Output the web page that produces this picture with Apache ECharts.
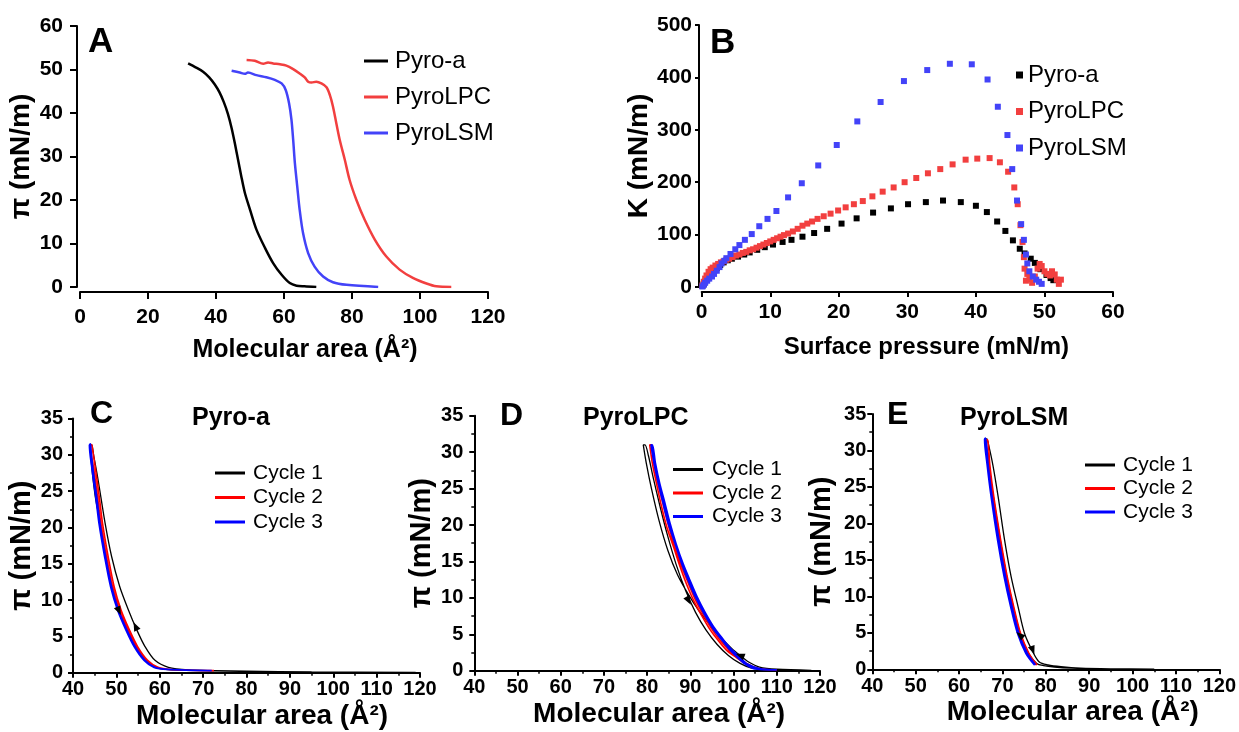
<!DOCTYPE html>
<html><head><meta charset="utf-8">
<script src="https://cdn.jsdelivr.net/npm/echarts@6/dist/echarts.min.js"></script>
<style>html,body{margin:0;padding:0;background:#fff}#c{width:1239px;height:732px}</style>
</head><body><div id="c"></div>
<script>
// ---------- Panel A: isotherms ----------
const aPyroAX = [31.8, 34.0, 36.2, 38.0, 39.6, 41.0, 42.3, 43.5, 44.6, 45.6, 46.5, 47.4, 48.5, 50.0, 51.9, 54.4, 56.8, 59.3, 61.7, 63.7, 66.0, 69.5];
const aPyroAY = [51.4, 50.5, 49.5, 48.2, 46.6, 44.8, 42.5, 39.8, 36.5, 32.8, 29.2, 25.6, 21.6, 17.8, 13.2, 9.0, 5.5, 2.8, 0.9, 0.3, 0.15, 0.0];
const aLPCX = [49.0, 51.4, 53.9, 55.3, 56.8, 58.8, 60.7, 62.7, 64.6, 66.1, 67.1, 68.1, 69.5, 71.0, 72.5, 73.5, 74.4, 75.4, 76.4, 77.9, 79.3, 81.3, 83.7, 86.7, 90.1, 94.0, 97.9, 101.9, 104.8, 109.2];
const aLPCY = [52.2, 52.0, 51.3, 51.6, 51.4, 51.2, 50.9, 50.1, 49.1, 48.2, 47.2, 47.0, 47.2, 46.8, 45.9, 44.1, 41.5, 37.6, 33.8, 29.2, 24.6, 20.0, 15.5, 10.9, 7.0, 4.0, 2.1, 0.8, 0.15, 0.0];
const aLSMX = [44.6, 47.0, 48.5, 49.4, 51.9, 54.8, 57.3, 59.3, 60.5, 61.5, 62.2, 62.7, 63.2, 63.9, 64.6, 65.6, 67.1, 69.0, 71.5, 74.4, 78.4, 87.7];
const aLSMY = [49.7, 49.3, 49.0, 49.3, 48.7, 48.2, 47.6, 46.8, 45.3, 42.2, 38.4, 33.8, 28.5, 23.1, 17.8, 12.4, 7.8, 4.7, 2.4, 1.1, 0.5, 0.0];

// ---------- Panel B: compressibility modulus ----------
const bPyroAX = [0.1, 0.3, 0.5, 0.8, 1.1, 1.5, 1.9, 2.2, 2.7, 3.2, 3.8, 4.4, 5.3, 6.2, 7.0, 8.1, 9.2, 10.4, 11.8, 13.1, 14.7, 16.4, 18.3, 20.4, 22.6, 25.0, 27.6, 30.1, 32.7, 35.2, 37.8, 40.0, 41.6, 43.1, 44.3, 45.4, 46.4, 47.1, 48.0, 48.6, 49.4, 50.3, 50.9, 51.3];
const bPyroAY = [2, 6, 10, 16, 21, 27, 32, 36, 42, 47, 51, 54, 58, 62, 66, 71, 76, 81, 86, 90, 96, 103, 111, 121, 131, 142, 150, 158, 162, 165, 162, 155, 143, 125, 107, 89, 73, 64, 54, 46, 34, 23, 17, 13];
const bLPCX = [0.1, 0.3, 0.5, 0.7, 1.0, 1.3, 1.6, 2.0, 2.4, 2.8, 3.2, 3.6, 4.0, 4.5, 5.0, 5.5, 6.0, 6.5, 7.0, 7.5, 8.0, 8.5, 9.0, 9.5, 10.0, 10.5, 11.0, 11.5, 12.0, 12.6, 13.3, 14.0, 14.7, 15.4, 16.1, 16.9, 17.8, 18.8, 19.9, 21.0, 22.2, 23.5, 24.9, 26.4, 28.0, 29.6, 31.3, 33.0, 34.8, 36.6, 38.5, 40.2, 42.0, 43.5, 44.7, 45.6, 46.1, 46.5, 46.8, 47.0, 47.1, 47.3, 47.5, 47.8, 48.2, 48.6, 49.0, 49.3, 49.6, 50.0, 50.4, 50.8, 51.1, 51.5, 51.8, 52.1, 52.4];
const bLPCY = [3, 10, 16, 22, 29, 34, 37, 41, 44, 47, 49, 52, 54, 57, 60, 62, 65, 67, 70, 72, 75, 78, 81, 84, 87, 90, 93, 96, 99, 102, 106, 111, 117, 121, 125, 130, 135, 140, 146, 152, 158, 164, 173, 182, 190, 200, 208, 217, 225, 234, 243, 245, 246, 238, 220, 190, 158, 118, 86, 57, 35, 12, 25, 15, 8, 20, 35, 44, 40, 30, 25, 22, 30, 24, 14, 6, 14];
const bLSMX = [0.1, 0.3, 0.5, 0.8, 1.1, 1.5, 1.8, 2.2, 2.6, 2.9, 3.3, 3.6, 4.2, 4.9, 5.5, 6.3, 7.3, 8.4, 9.6, 10.9, 12.6, 14.6, 17.0, 19.7, 22.7, 26.1, 29.5, 32.9, 36.2, 39.4, 41.7, 43.2, 44.6, 45.3, 46.0, 46.6, 47.0, 47.3, 47.5, 47.8, 48.3, 48.8, 49.2, 49.6];
const bLSMY = [1, 4, 8, 12, 16, 20, 25, 31, 38, 45, 50, 55, 63, 72, 80, 90, 101, 116, 130, 145, 171, 198, 232, 271, 316, 353, 393, 414, 426, 425, 396, 344, 290, 225, 165, 120, 90, 62, 45, 30, 20, 14, 10, 6];

// ---------- Panel C: Pyro-a cycles (compression then expansion) ----------
const cC1X = [119, 95, 80, 72.8, 66.6, 62, 58.9, 56.6, 54.7, 52.8, 50.8, 48.9, 47.4, 45.8, 44.8, 44.3,
              44.0, 44.3, 45.2, 46.3, 47.6, 49.0, 50.6, 52.5, 54.4, 56.7, 59.0, 62.1, 66, 72, 85, 100, 119];
const cC1Y = [0.03, 0.1, 0.2, 0.28, 0.37, 0.74, 1.7, 3.6, 5.9, 8.6, 11.8, 16, 20.6, 26.5, 29.8, 31.4,
              31.4, 28.5, 24, 20.6, 16, 11.8, 8.6, 5.9, 3.6, 1.7, 0.74, 0.42, 0.32, 0.25, 0.15, 0.08, 0.03];
const cC2X = [72.5, 62.5, 59.6, 57.2, 54.9, 53.0, 51.1, 49.5, 48.1, 46.8, 46.1, 45.2, 44.5, 44.3,
              44.0, 44.8, 45.7, 46.4, 47.7, 49.1, 50.7, 52.6, 54.5, 56.8, 59.1, 62.2, 72.5];
const cC2Y = [0.28, 0.45, 0.74, 1.7, 3.6, 5.9, 8.6, 11.8, 16, 20.6, 24, 28, 30.8, 31.4,
              31.2, 28, 24, 20.6, 16, 11.8, 8.6, 5.9, 3.6, 1.7, 0.74, 0.45, 0.28];
const cC3X = [72, 62, 58.9, 56.6, 54.3, 52.4, 50.5, 48.9, 47.5, 46.2, 45.5, 44.6, 44.1, 44.0,
              43.8, 44.4, 45.3, 46.0, 47.3, 48.7, 50.3, 52.2, 54.1, 56.4, 58.7, 61.8, 72];
const cC3Y = [0.28, 0.45, 0.74, 1.7, 3.6, 5.9, 8.6, 11.8, 16, 20.6, 24, 28, 30.8, 31.5,
              31.3, 28, 24, 20.6, 16, 11.8, 8.6, 5.9, 3.6, 1.7, 0.74, 0.45, 0.28];
const cArrowX = [54.4, 50.6];
const cArrowY = [6.4, 8.5];

// ---------- Panel D: PyroLPC cycles ----------
const dC1X = [118, 110, 106, 103.5, 101.5, 99.5, 97, 94.5, 92, 89.5, 87, 84.8, 82.8, 81, 79.8, 79.1,
              79.5, 80.3, 81.4, 83, 84.7, 86.7, 88.9, 91.2, 93.6, 96.2, 98.8, 101.5, 104, 107, 112, 118];
const dC1Y = [0.05, 0.2, 0.5, 1.2, 2.1, 3.1, 4.6, 6.3, 8.2, 10.5, 13.2, 16.5, 20.5, 25, 28.5, 31,
              31, 29.5, 26.5, 22.5, 18.6, 14.6, 11, 8.0, 5.6, 3.6, 2.1, 1.0, 0.4, 0.15, 0.07, 0.05];
const dC2X = [110, 105.4, 102.6, 100.2, 98.4, 96.5, 94.6, 92.6, 90.7, 89.1, 87.6, 86.1, 84.5, 83.3, 82.2, 81.2, 80.6,
              80.9, 81.6, 82.6, 83.8, 85.0, 86.4, 88.0, 89.6, 91.2, 93.1, 95.1, 97.0, 99.0, 101.0, 103.0, 105.8, 110];
const dC2Y = [0.1, 0.3, 1.0, 2.0, 2.8, 4.1, 5.6, 7.6, 9.7, 11.9, 14.3, 17, 19.8, 22.6, 25.6, 28.5, 31,
              31, 28.5, 25.6, 22.6, 19.8, 17, 14.3, 11.9, 9.7, 7.6, 5.6, 4.1, 2.8, 1.9, 1.0, 0.3, 0.1];
const dC3X = [110, 104.6, 102.7, 100.6, 98.8, 96.9, 95.0, 93.0, 91.1, 89.5, 88.0, 86.5, 84.9, 83.7, 82.6, 81.6, 80.9,
              81.2, 81.9, 82.9, 84.1, 85.3, 86.7, 88.3, 89.9, 91.5, 93.4, 95.4, 97.3, 99.2, 101.2, 103.2, 106, 110];
const dC3Y = [0.1, 0.3, 0.9, 2.0, 3.1, 4.5, 6.0, 8.0, 10.2, 12.4, 14.7, 17.4, 20.2, 23, 25.7, 28.5, 31,
              31, 28.5, 25.7, 23, 20.2, 17.4, 14.7, 12.4, 10.2, 8.0, 6.0, 4.5, 3.1, 2.0, 0.9, 0.3, 0.1];
const dArrowX = [101.5, 89.6];
const dArrowY = [2.1, 9.6];

// ---------- Panel E: PyroLSM cycles ----------
const eC1X = [105, 95, 88, 83.5, 80.5, 78.5, 77, 75.1, 73.6, 72, 70.5, 69, 67.8, 66.8, 66.4,
              66.1, 66.8, 67.9, 69.5, 71.0, 72.5, 74.1, 76.0, 77.9, 79.5, 82, 86, 92, 105];
const eC1Y = [0.02, 0.06, 0.15, 0.35, 0.6, 1.0, 2.4, 4.9, 8.6, 12.7, 17.7, 23.7, 28, 30.8, 31.6,
              31.6, 28, 23.7, 17.7, 12.7, 8.6, 4.9, 2.2, 0.8, 0.5, 0.3, 0.15, 0.07, 0.02];
const eC2X = [78.0, 76.1, 74.2, 72.6, 71.1, 69.6, 68.0, 67.1, 66.6,
              66.3, 66.9, 67.8, 69.3, 70.8, 72.3, 73.9, 75.8, 77.8];
const eC2Y = [0.6, 2.2, 4.9, 8.6, 12.7, 17.7, 23.7, 28, 31.5,
              31.3, 28, 23.7, 17.7, 12.7, 8.6, 4.9, 2.2, 0.6];
const eC3X = [77.6, 75.7, 73.8, 72.2, 70.7, 69.2, 67.6, 66.7, 66.1,
              65.9, 66.5, 67.4, 68.9, 70.4, 71.9, 73.5, 75.4, 77.4];
const eC3Y = [0.6, 2.2, 4.9, 8.6, 12.7, 17.7, 23.7, 28, 31.7,
              31.5, 28, 23.7, 17.7, 12.7, 8.6, 4.9, 2.2, 0.6];
const eArrowX = [74.0, 77.0];
const eArrowY = [4.7, 2.6];

// ---------- labels ----------
const seriesNamesTop = ['Pyro-a', 'PyroLPC', 'PyroLSM'];
const cycleNames = ['Cycle 1', 'Cycle 2', 'Cycle 3'];
const areaTitle = 'Molecular area (Å²)';
const piTitle = 'π (mN/m)';

// ---------- build ----------
const zip = (xs, ys) => xs.map((x, i) => [x, ys[i]]);
const BLACK = '#000000', RED_T = '#f23f3f', BLUE_T = '#4343f8', RED = '#ff0000', BLUE = '#0000ff';
const FF = "'Liberation Sans', Arial, sans-serif";

function ax(gi, min, max, interval, o) {
  return Object.assign({
    type: 'value', gridIndex: gi, min: min, max: max, interval: interval,
    splitLine: { show: false },
    axisLine: { show: true, onZero: false, lineStyle: { color: '#000', width: 2 } },
    axisTick: { show: true, inside: false, length: o.tick, lineStyle: { color: '#000', width: 2 } },
    minorTick: { show: !!o.minor, splitNumber: 2, length: 3, lineStyle: { color: '#000', width: 1.5 } },
    axisLabel: { color: '#000', fontWeight: 'bold', fontSize: o.fs, fontFamily: FF, margin: o.margin },
    nameLocation: 'middle',
    nameTextStyle: { color: '#000', fontWeight: 'bold', fontSize: o.nfs, fontFamily: FF, padding: o.pad || 0 }
  }, o.extra);
}

const option = {
  animation: false,
  backgroundColor: '#fff',
  grid: [
    { left: 80, top: 26, width: 408, height: 261 },
    { left: 701.7, top: 25, width: 411.3, height: 262 },
    { left: 73, top: 418.5, width: 347, height: 254.2 },
    { left: 474.3, top: 415.7, width: 345.7, height: 255 },
    { left: 872.3, top: 414, width: 347.7, height: 255.3 }
  ],
  xAxis: [
    ax(0, 0, 120, 20, { tick: 7, fs: 21, margin: 15, nfs: 25, pad: [0, 0, 0, 42], extra: { offset: 5, name: areaTitle, nameGap: 46 } }),
    ax(1, 0, 60, 10, { tick: 5, fs: 21, margin: 10, nfs: 24, pad: [0, 0, 0, 38], extra: { offset: 5, name: 'Surface pressure (mN/m)', nameGap: 43 } }),
    ax(2, 40, 120, 10, { tick: 5, minor: true, fs: 20, margin: 7, nfs: 28, pad: [0, 0, 0, 31], extra: { name: areaTitle, nameGap: 30 } }),
    ax(3, 40, 120, 10, { tick: 5, minor: true, fs: 20, margin: 7, nfs: 28, pad: [0, 0, 0, 24], extra: { name: areaTitle, nameGap: 30 } }),
    ax(4, 40, 120, 10, { tick: 5, minor: true, fs: 20, margin: 7, nfs: 28, pad: [0, 0, 0, 54], extra: { name: areaTitle, nameGap: 29 } })
  ],
  yAxis: [
    ax(0, 0, 60, 10, { tick: 7, fs: 21, margin: 14, nfs: 28, extra: { offset: 3, name: piTitle, nameGap: 40 } }),
    ax(1, 0, 500, 100, { tick: 4, fs: 21, margin: 7, nfs: 28, extra: { offset: 2.7, name: 'K (mN/m)', nameGap: 41 } }),
    ax(2, 0, 35, 5, { tick: 5, minor: true, fs: 20, margin: 10, nfs: 29, extra: { name: piTitle, nameGap: 34 } }),
    ax(3, 0, 35, 5, { tick: 5, minor: true, fs: 20, margin: 11, nfs: 29, extra: { name: piTitle, nameGap: 38 } }),
    ax(4, 0, 35, 5, { tick: 5, minor: true, fs: 20, margin: 6, nfs: 29, extra: { name: piTitle, nameGap: 36 } })
  ],
  legend: [
    { data: seriesNamesTop, orient: 'vertical', left: 364, top: 48, padding: 0, icon: 'rect', itemWidth: 24, itemHeight: 3, itemGap: 10,
      textStyle: { fontSize: 24, fontFamily: FF, color: '#000', lineHeight: 26, padding: [0, 0, 0, 2] } },
    { data: seriesNamesTop.map(n => n + ' '), orient: 'vertical', left: 1016, top: 62, padding: 0, icon: 'rect', itemWidth: 7, itemHeight: 7, itemGap: 10.5,
      formatter: n => n.trim(),
      textStyle: { fontSize: 24, fontFamily: FF, color: '#000', lineHeight: 26 } },
    { data: cycleNames, orient: 'vertical', left: 215, top: 462, padding: 0, icon: 'rect', itemWidth: 30, itemHeight: 3, itemGap: 2.5,
      textStyle: { fontSize: 21, fontFamily: FF, color: '#000', lineHeight: 22, padding: [0, 0, 0, 3] } },
    { data: cycleNames.map(n => n + ' '), orient: 'vertical', left: 673, top: 458.5, padding: 0, icon: 'rect', itemWidth: 30, itemHeight: 3, itemGap: 1.5,
      formatter: n => n.trim(),
      textStyle: { fontSize: 21, fontFamily: FF, color: '#000', lineHeight: 22, padding: [0, 0, 0, 4] } },
    { data: cycleNames.map(n => n + '  '), orient: 'vertical', left: 1085, top: 454, padding: 0, icon: 'rect', itemWidth: 30, itemHeight: 3, itemGap: 1.5,
      formatter: n => n.trim(),
      textStyle: { fontSize: 21, fontFamily: FF, color: '#000', lineHeight: 22, padding: [0, 0, 0, 3] } }
  ],
  graphic: [
    { type: 'text', x: 88, y: 42, style: { text: 'A', fontSize: 35, fontWeight: 'bold', fontFamily: FF, fill: '#000', verticalAlign: 'middle' } },
    { type: 'text', x: 710, y: 43, style: { text: 'B', fontSize: 35, fontWeight: 'bold', fontFamily: FF, fill: '#000', verticalAlign: 'middle' } },
    { type: 'text', x: 90, y: 414, style: { text: 'C', fontSize: 32, fontWeight: 'bold', fontFamily: FF, fill: '#000', verticalAlign: 'middle' } },
    { type: 'text', x: 500, y: 416, style: { text: 'D', fontSize: 32, fontWeight: 'bold', fontFamily: FF, fill: '#000', verticalAlign: 'middle' } },
    { type: 'text', x: 887, y: 415, style: { text: 'E', fontSize: 32, fontWeight: 'bold', fontFamily: FF, fill: '#000', verticalAlign: 'middle' } },
    { type: 'text', x: 192, y: 418, style: { text: 'Pyro-a', fontSize: 25, fontWeight: 'bold', fontFamily: FF, fill: '#000', verticalAlign: 'middle' } },
    { type: 'text', x: 583, y: 418, style: { text: 'PyroLPC', fontSize: 25, fontWeight: 'bold', fontFamily: FF, fill: '#000', verticalAlign: 'middle' } },
    { type: 'text', x: 960, y: 418, style: { text: 'PyroLSM', fontSize: 25, fontWeight: 'bold', fontFamily: FF, fill: '#000', verticalAlign: 'middle' } }
  ],
  series: []
};

function line(name, gi, xs, ys, color, width, smooth) {
  return { type: 'line', name: name, xAxisIndex: gi, yAxisIndex: gi, data: zip(xs, ys), showSymbol: false, symbol: 'none',
    smooth: smooth, color: color, lineStyle: { color: color, width: width }, itemStyle: { color: color }, z: 3 };
}
function dots(name, gi, xs, ys, color) {
  return { type: 'scatter', name: name, xAxisIndex: gi, yAxisIndex: gi, data: zip(xs, ys), symbol: 'rect', symbolSize: 6,
    color: color, itemStyle: { color: color, opacity: 1 }, z: 3 };
}
function arrows(gi, xs, ys, rots) {
  return { type: 'scatter', name: 'arrows' + gi, xAxisIndex: gi, yAxisIndex: gi, symbol: 'triangle', symbolSize: [7, 9],
    data: xs.map((x, i) => ({ value: [x, ys[i]], symbolRotate: rots[i] })), itemStyle: { color: '#000', opacity: 1 }, z: 5 };
}

option.series.push(
  line('Pyro-a', 0, aPyroAX, aPyroAY, BLACK, 2.5, 0.3),
  line('PyroLPC', 0, aLPCX, aLPCY, RED_T, 2.5, 0.3),
  line('PyroLSM', 0, aLSMX, aLSMY, BLUE_T, 2.5, 0.3),
  dots('Pyro-a ', 1, bPyroAX, bPyroAY, BLACK),
  dots('PyroLPC ', 1, bLPCX, bLPCY, RED_T),
  dots('PyroLSM ', 1, bLSMX, bLSMY, BLUE_T),
  line('Cycle 1', 2, cC1X, cC1Y, BLACK, 1.3, 0.3),
  line('Cycle 2', 2, cC2X, cC2Y, RED, 1.6, 0.3),
  line('Cycle 3', 2, cC3X, cC3Y, BLUE, 1.8, 0.3),
  arrows(2, cArrowX, cArrowY, [25, 205]),
  line('Cycle 1 ', 3, dC1X, dC1Y, BLACK, 1.3, 0.3),
  line('Cycle 2 ', 3, dC2X, dC2Y, RED, 1.6, 0.3),
  line('Cycle 3 ', 3, dC3X, dC3Y, BLUE, 1.8, 0.3),
  arrows(3, dArrowX, dArrowY, [70, 210]),
  line('Cycle 1  ', 4, eC1X, eC1Y, BLACK, 1.3, 0.3),
  line('Cycle 2  ', 4, eC2X, eC2Y, RED, 1.6, 0.3),
  line('Cycle 3  ', 4, eC3X, eC3Y, BLUE, 1.8, 0.3),
  arrows(4, eArrowX, eArrowY, [50, 200])
);

const chart = echarts.init(document.getElementById('c'), null, { renderer: 'canvas' });
chart.setOption(option);
</script></body></html>
